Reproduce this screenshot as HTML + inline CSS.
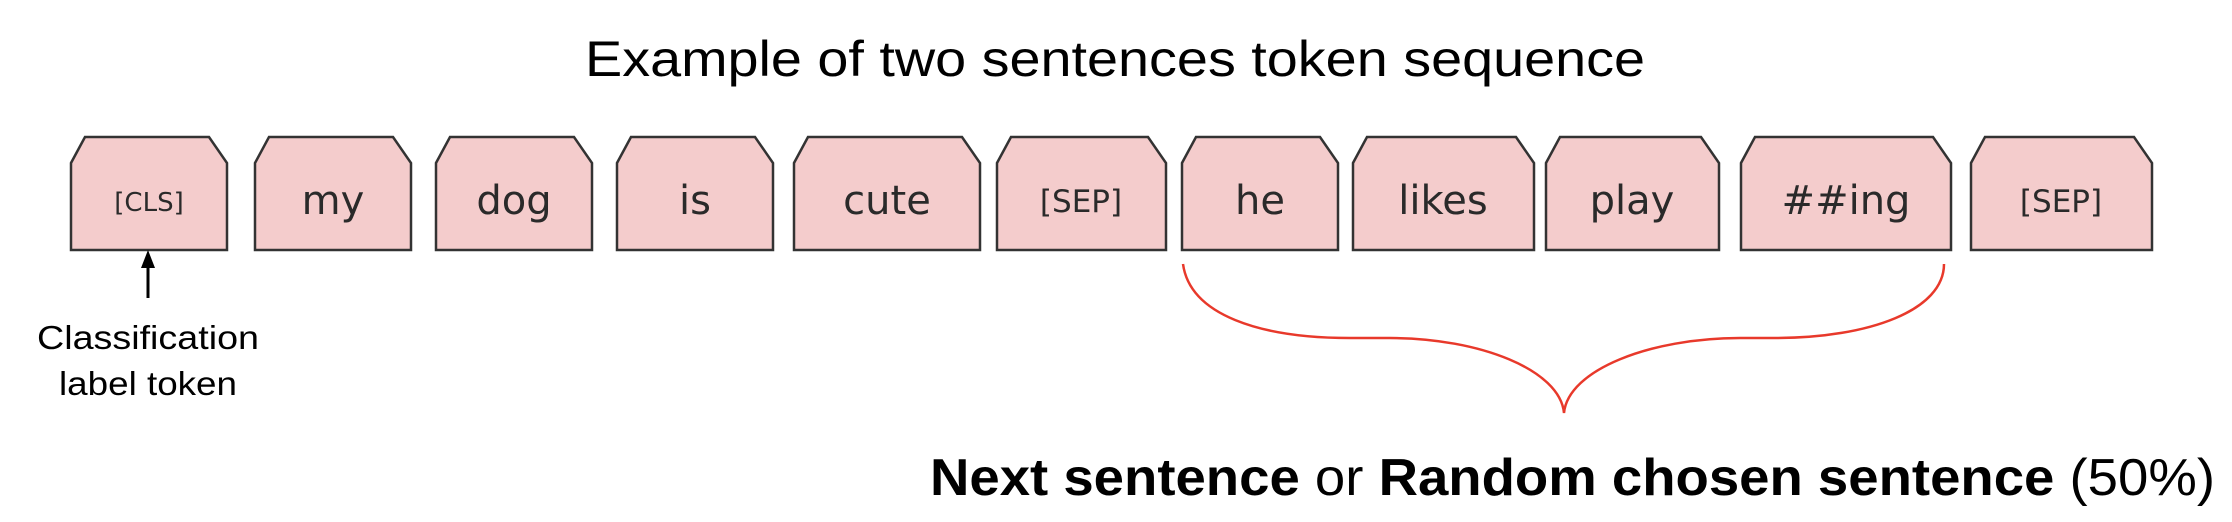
<!DOCTYPE html>
<html><head><meta charset="utf-8"><style>
html,body{margin:0;padding:0;background:#fff;width:2232px;height:522px;overflow:hidden}
</style></head><body>
<svg width="2232" height="522" viewBox="0 0 2232 522" xmlns="http://www.w3.org/2000/svg">
<text x="1115" y="76" text-anchor="middle" font-family="Liberation Sans, sans-serif" font-size="50" fill="#000" textLength="1060" lengthAdjust="spacingAndGlyphs">Example of two sentences token sequence</text>
<g fill="#f4cccc" stroke="#333" stroke-width="2.5">
<path d="M71,250 L71,163 L85,137 L209,137 L227,163 L227,250 Z"/>
<path d="M255,250 L255,163 L269,137 L393,137 L411,163 L411,250 Z"/>
<path d="M436,250 L436,163 L450,137 L574,137 L592,163 L592,250 Z"/>
<path d="M617,250 L617,163 L631,137 L755,137 L773,163 L773,250 Z"/>
<path d="M794,250 L794,163 L808,137 L962,137 L980,163 L980,250 Z"/>
<path d="M997,250 L997,163 L1011,137 L1148,137 L1166,163 L1166,250 Z"/>
<path d="M1182,250 L1182,163 L1196,137 L1320,137 L1338,163 L1338,250 Z"/>
<path d="M1353,250 L1353,163 L1367,137 L1516,137 L1534,163 L1534,250 Z"/>
<path d="M1546,250 L1546,163 L1560,137 L1701,137 L1719,163 L1719,250 Z"/>
<path d="M1741,250 L1741,163 L1755,137 L1933,137 L1951,163 L1951,250 Z"/>
<path d="M1971,250 L1971,163 L1985,137 L2134,137 L2152,163 L2152,250 Z"/>
</g>
<g font-family="DejaVu Sans, sans-serif" fill="#2a2a2a" text-anchor="middle">
<text x="149" y="211" font-size="26">[CLS]</text>
<text x="333" y="214" font-size="40">my</text>
<text x="514" y="214" font-size="40">dog</text>
<text x="695" y="214" font-size="40">is</text>
<text x="887" y="214" font-size="40">cute</text>
<text x="1081" y="212" font-size="31">[SEP]</text>
<text x="1260" y="214" font-size="40">he</text>
<text x="1443" y="214" font-size="40">likes</text>
<text x="1632" y="214" font-size="40">play</text>
<text x="1846" y="214" font-size="40">##ing</text>
<text x="2061" y="212" font-size="31">[SEP]</text>
</g>
<line x1="148" y1="298" x2="148" y2="266" stroke="#000" stroke-width="3"/>
<path d="M148,250 L141,268 L155,268 Z" fill="#000"/>
<text x="148" y="349" text-anchor="middle" font-family="Liberation Sans, sans-serif" font-size="33" textLength="222" lengthAdjust="spacingAndGlyphs">Classification</text>
<text x="148" y="395" text-anchor="middle" font-family="Liberation Sans, sans-serif" font-size="33" textLength="178" lengthAdjust="spacingAndGlyphs">label token</text>
<path d="M1183,264 C1190,315 1260,338 1350,338 L1390,338 C1480,338 1560,370 1564,413 C1568,370 1650,338 1740,338 L1775,338 C1870,338 1944,310 1944,264" fill="none" stroke="#e8392b" stroke-width="2.5"/>
<text x="930" y="495" font-family="Liberation Sans, sans-serif" font-size="52" fill="#000" textLength="1285" lengthAdjust="spacingAndGlyphs"><tspan font-weight="bold">Next sentence</tspan> or <tspan font-weight="bold">Random chosen sentence</tspan> (50%)</text>
</svg>
</body></html>
